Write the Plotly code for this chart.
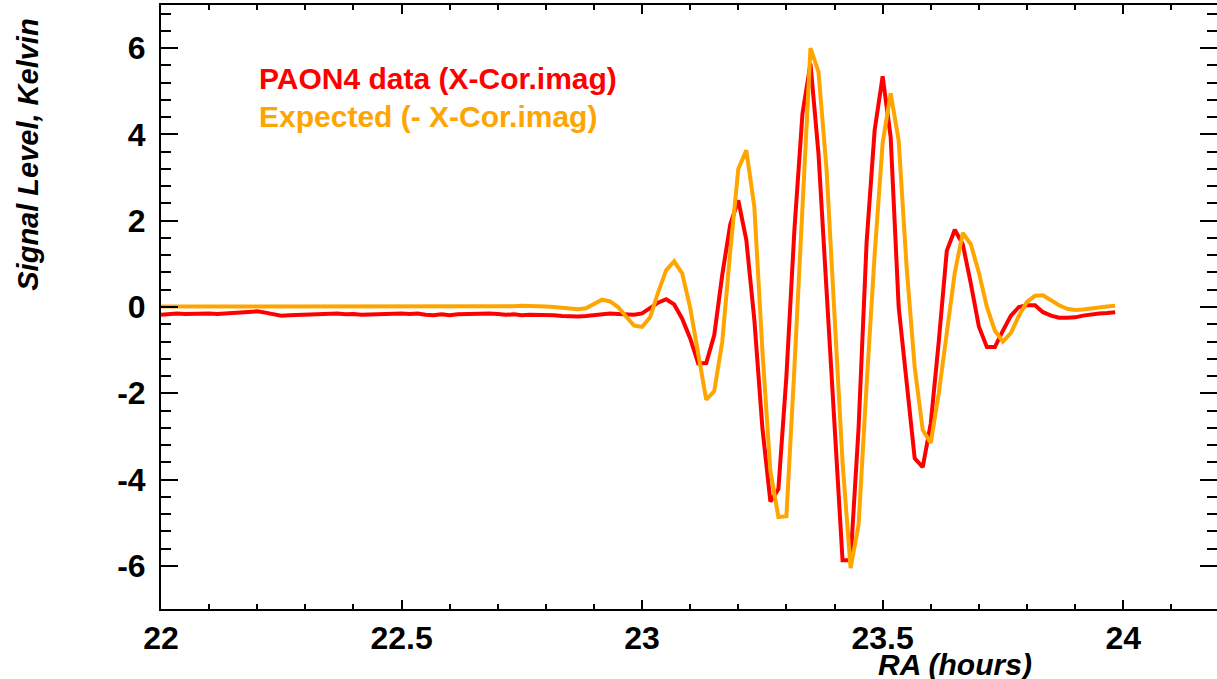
import numpy as np
import plotly.graph_objects as go

# RA sampling: one point per minute from 22h00m
ra_hours = np.round(22.0 + np.arange(120) / 60.0, 5)

# Measured cross-correlation (imaginary part), Kelvin
paon4_data = [
    -0.18, -0.16, -0.15, -0.16, -0.15, -0.16, -0.15, -0.16, -0.15, -0.13,
    -0.14, -0.12, -0.10, -0.13, -0.16, -0.20, -0.19, -0.18, -0.18, -0.17,
    -0.15, -0.14, -0.15, -0.17, -0.16, -0.18, -0.17, -0.16, -0.17, -0.16,
    -0.15, -0.16, -0.15, -0.18, -0.19, -0.17, -0.19, -0.17, -0.16, -0.16,
    -0.15, -0.15, -0.16, -0.18, -0.17, -0.19, -0.18, -0.18, -0.17, -0.19,
    -0.21, -0.22, -0.22, -0.21, -0.19, -0.18, -0.15, -0.16, -0.18, -0.18,
    -0.15, -0.02, 0.10, 0.18, 0.06, -0.27, -0.73, -1.31, -1.30, -0.65,
    0.75, 1.92, 2.47, 1.55, -0.30, -2.80, -4.51, -4.22, -1.60, 1.80,
    4.48, 5.64, 3.55, 0.40, -2.75, -5.87, -5.87, -2.80, 1.50, 4.09,
    5.35, 3.94, 0.00, -1.80, -3.51, -3.71, -2.70, -0.80, 1.30, 1.79,
    1.45, 0.54, -0.45, -0.93, -0.93, -0.55, -0.20, 0.00, 0.04, 0.04,
    -0.12, -0.20, -0.25, -0.25, -0.24, -0.20, -0.17, -0.15, -0.14, -0.12,
]

# Model prediction (negated imaginary part), Kelvin
expected = [
    0.01, 0.01, 0.01, 0.00, 0.01, 0.01, 0.01, 0.00, 0.01, 0.01,
    0.01, 0.01, 0.02, 0.01, 0.01, 0.01, 0.00, 0.01, 0.01, 0.01,
    0.01, 0.01, 0.01, 0.00, 0.01, 0.01, 0.01, 0.01, 0.00, 0.01,
    0.01, 0.01, 0.01, 0.01, 0.00, 0.01, 0.01, 0.01, 0.01, 0.01,
    0.01, 0.01, 0.01, 0.01, 0.02, 0.03, 0.03, 0.02, 0.01, 0.00,
    -0.01, -0.03, -0.05, -0.03, 0.06, 0.17, 0.13, 0.00, -0.22, -0.43,
    -0.46, -0.24, 0.34, 0.85, 1.06, 0.78, -0.02, -1.10, -2.15, -1.95,
    -0.80, 1.30, 3.20, 3.63, 2.32, -1.00, -3.80, -4.87, -4.85, -1.40,
    2.10, 6.00, 5.45, 3.20, -0.20, -3.60, -6.05, -5.05, -1.80, 1.20,
    3.80, 4.95, 3.86, 0.90, -1.40, -2.85, -3.15, -2.00, -0.60, 0.80,
    1.72, 1.45, 0.80, 0.00, -0.55, -0.80, -0.60, -0.20, 0.12, 0.26,
    0.27, 0.16, 0.04, -0.04, -0.07, -0.06, -0.03, -0.01, 0.01, 0.03,
]

x_ticks = [22, 22.5, 23, 23.5, 24]
x_ticktext = ["22", "22.5", "23", "23.5", "24"]
y_ticks = [-6, -4, -2, 0, 2, 4, 6]
y_ticktext = ["-6", "-4", "-2", "0", "2", "4", "6"]
y_minor = [round(v * 0.4, 1) for v in range(-14, 18) if (v * 0.4) % 2 > 0.01 and (v * 0.4) % 2 < 1.99]

RED = "#FF0000"
ORANGE = "#FFA500"
FONT = "Liberation Sans"

fig = go.Figure()
fig.add_trace(go.Scatter(x=ra_hours, y=paon4_data, mode="lines",
                         line=dict(color=RED, width=4), showlegend=False))
fig.add_trace(go.Scatter(x=ra_hours, y=expected, mode="lines",
                         line=dict(color=ORANGE, width=4), showlegend=False))
# carrier for the right-hand tick axis
fig.add_trace(go.Scatter(x=[None], y=[None], yaxis="y2", showlegend=False,
                         hoverinfo="skip"))

tick_font = dict(family=FONT, size=32, color="black", weight="bold")

fig.update_layout(
    width=1217, height=679,
    margin=dict(l=161, r=0, t=5, b=70),
    paper_bgcolor="white", plot_bgcolor="white",
    xaxis=dict(
        range=[22, 24.195], tickmode="array", tickvals=x_ticks, ticktext=x_ticktext,
        ticks="inside", ticklen=9, tickwidth=2, tickcolor="black",
        minor=dict(dtick=0.1, tick0=22, ticks="inside", ticklen=5,
                   tickwidth=1.5, tickcolor="black"),
        showline=True, linewidth=2, linecolor="black", mirror="ticks",
        showgrid=False, zeroline=False, tickfont=tick_font,
    ),
    yaxis=dict(
        range=[-7, 7], tickmode="array", tickvals=y_ticks, ticktext=y_ticktext,
        ticks="inside", ticklen=17, tickwidth=2, tickcolor="black",
        minor=dict(tickmode="array", tickvals=y_minor, ticks="inside",
                   ticklen=10, tickwidth=1.5, tickcolor="black"),
        showline=True, linewidth=2, linecolor="black", mirror=False,
        showgrid=False, zeroline=False, tickfont=tick_font,
        ticklabelstandoff=7,
    ),
    yaxis2=dict(
        range=[-7, 7], overlaying="y", side="right", tickmode="array",
        tickvals=y_ticks, showticklabels=False,
        ticks="inside", ticklen=17, tickwidth=2, tickcolor="black",
        minor=dict(tickmode="array", tickvals=y_minor, ticks="inside",
                   ticklen=10, tickwidth=1.5, tickcolor="black"),
        showline=False, showgrid=False, zeroline=False,
    ),
)

fig.add_annotation(text="Signal Level, Kelvin", xref="paper", yref="paper",
                   x=-0.126, y=0.752, textangle=-90, showarrow=False,
                   xanchor="center", yanchor="middle",
                   font=dict(family=FONT, size=29, color="black",
                             weight="bold", style="italic"))
fig.add_annotation(text="RA (hours)", xref="paper", yref="paper",
                   x=0.752, y=-0.092, showarrow=False,
                   xanchor="center", yanchor="middle",
                   font=dict(family=FONT, size=30, color="black",
                             weight="bold", style="italic"))
fig.add_annotation(text="PAON4 data (X-Cor.imag)", xref="paper", yref="paper",
                   x=0.0905, y=(609 - 79) / 604, showarrow=False,
                   xanchor="left", yanchor="middle",
                   font=dict(family=FONT, size=30, color=RED, weight="bold"))
fig.add_annotation(text="Expected (- X-Cor.imag)", xref="paper", yref="paper",
                   x=0.0905, y=(609 - 117) / 604, showarrow=False,
                   xanchor="left", yanchor="middle",
                   font=dict(family=FONT, size=30, color=ORANGE, weight="bold"))

fig.write_html("out.html")
